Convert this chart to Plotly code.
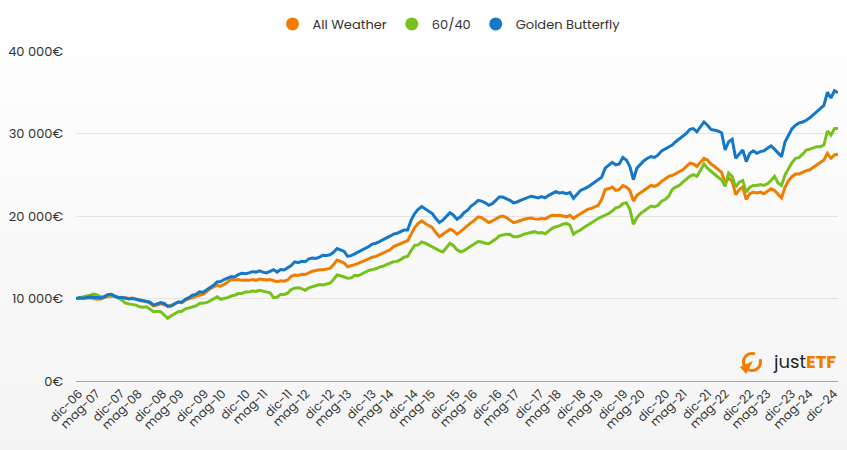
import math
import plotly.graph_objects as go

# ---------------- data (monthly, dic-06 .. dic-24) ----------------
all_weather = [10000,
 10020, 9980, 10050, 10100, 10000, 9900, 9950, 10100, 10250, 10300, 10200, 10100,
 10050, 10100, 10000, 10050, 9950, 9750, 9700, 9650, 9400, 9100, 9200, 9350,
 9250, 9100, 9200, 9400, 9550, 9500, 9800, 9950, 10150, 10250, 10400, 10500,
 10800, 11200, 11400, 11600, 11500, 11700, 12000, 12300, 12250, 12300, 12200, 12250,
 12200, 12300, 12200, 12350, 12300, 12250, 12300, 12200, 12050, 12150, 12100, 12250,
 12700, 12850, 12800, 12950, 12900, 13100, 13300, 13400, 13500, 13500, 13550, 13650,
 14100, 14660, 14500, 14300, 13850, 13950, 14100, 14250, 14450, 14600, 14800, 15000,
 15100, 15300, 15500, 15700, 15900, 16300, 16500, 16600, 16900, 17000, 17800, 18600,
 19100, 19400, 19100, 18800, 18600, 18000, 17500, 17800, 18100, 18400, 18200, 17800,
 18100, 18500, 18800, 19200, 19500, 19900, 19800, 19500, 19200, 19400, 19700, 19900,
 20000, 19800, 19500, 19200, 19300, 19500, 19600, 19700, 19750, 19650, 19600, 19700,
 19650, 19900, 20100, 20050, 20100, 20000, 19900, 20100, 19700, 20000, 20300, 20500,
 20800, 20900, 21100, 21300, 22000, 23200, 23300, 23500, 23100, 23200, 23700, 23500,
 23100, 21800, 22500, 22800, 23100, 23500, 23700, 23600, 23800, 24200, 24500, 24800,
 24900, 25100, 25300, 25600, 26000, 26400, 26300, 26000, 26500, 27000, 26800, 26300,
 26000, 25600, 25300, 24000, 24600, 24200, 22600, 23200, 23500, 22000, 22700, 22900,
 22800, 22900, 22700, 23000, 23300, 23100, 22600, 22200, 23500, 24300, 24800, 25100,
 25100, 25300, 25500, 25600, 25900, 26200, 26500, 26800, 27600, 27000, 27400, 27500]

sixty_forty = [10000,
 10100, 10150, 10250, 10400, 10550, 10450, 10200, 10250, 10400, 10500, 10250, 10100,
 9800, 9450, 9350, 9300, 9200, 9000, 8950, 9000, 8700, 8400, 8450, 8400,
 8000, 7600, 7900, 8200, 8400, 8450, 8750, 8850, 9000, 9100, 9400, 9450,
 9500, 9700, 9900, 10200, 9900, 10000, 10100, 10300, 10400, 10600, 10600, 10800,
 10800, 10900, 10850, 11000, 10900, 10800, 10700, 10100, 10150, 10500, 10500, 10650,
 11100, 11250, 11300, 11200, 11000, 11300, 11450, 11550, 11700, 11650, 11750, 11850,
 12300, 12850, 12750, 12600, 12450, 12500, 12800, 12750, 13000, 13200, 13400, 13500,
 13600, 13800, 13900, 14100, 14300, 14450, 14500, 14700, 15000, 15100, 15800, 16450,
 16500, 16850, 16700, 16450, 16300, 16000, 15800, 15650, 16200, 16700, 16400, 15900,
 15650, 15800, 16100, 16400, 16600, 16900, 16850, 16700, 16650, 16900, 17200, 17600,
 17700, 17800, 17750, 17500, 17500, 17600, 17800, 17900, 18000, 18100, 17950, 18000,
 17850, 18200, 18500, 18700, 18800, 19000, 19100, 18900, 17800, 18100, 18300, 18600,
 18900, 19200, 19500, 19700, 19900, 20100, 20300, 20600, 21000, 21100, 21500, 21600,
 20800, 19000, 19800, 20300, 20600, 20900, 21200, 21100, 21300, 21800, 22000, 22400,
 23200, 23500, 23700, 24100, 24500, 24800, 25000, 24800, 25500, 26300, 25800, 25400,
 25000, 24700, 24400, 23600, 25200, 24800, 23500, 24100, 24300, 22900, 23500, 23700,
 23700, 23800, 23700, 23900, 24300, 24800, 24000, 23700, 25000, 25800, 26500, 27000,
 27100, 27500, 28000, 28100, 28300, 28400, 28400, 28600, 30300, 29800, 30600, 30600]

golden_butterfly = [10000,
 10080, 10020, 10100, 10180, 10150, 10100, 10080, 10200, 10450, 10500, 10250, 10100,
 10150, 10050, 9950, 10000, 9900, 9800, 9750, 9600, 9550, 9200, 9350, 9500,
 9400, 9050, 9100, 9350, 9600, 9550, 9900, 10100, 10400, 10500, 10800, 10750,
 11000, 11300, 11600, 12000, 12050, 12300, 12450, 12650, 12600, 12900, 13050, 13000,
 13100, 13250, 13200, 13350, 13200, 13100, 13300, 13500, 13200, 13500, 13450, 13700,
 14000, 14450, 14350, 14500, 14450, 14800, 14900, 14850, 15000, 15250, 15200, 15300,
 15600, 16050, 15900, 15700, 15100, 15200, 15400, 15600, 15850, 16000, 16300, 16600,
 16700, 16900, 17100, 17350, 17550, 17800, 17900, 18100, 18300, 18300, 19500, 20300,
 20800, 21150, 20900, 20600, 20300, 19700, 19200, 19500, 20000, 20400, 20100, 19600,
 19900, 20400, 20700, 21200, 21500, 21900, 21800, 21600, 21300, 21500, 21900, 22300,
 22300, 22100, 21900, 21600, 21700, 21900, 22100, 22300, 22400, 22300, 22200, 22350,
 22200, 22500, 22700, 22950, 22800, 22850, 22700, 22850, 22150, 22600, 23100, 23300,
 23500, 23800, 24100, 24300, 24700, 25800, 26100, 26500, 26200, 26300, 27100, 26800,
 26000, 24400, 25800, 26300, 26700, 27000, 27200, 27100, 27400, 27900, 28100, 28400,
 28600, 29000, 29300, 29600, 30000, 30500, 30600, 30200, 30800, 31400, 31000, 30500,
 30400, 30300, 30100, 28000, 29000, 29300, 27000, 27500, 28000, 26600, 27600, 27900,
 27600, 27800, 27900, 28200, 28500, 28100, 27600, 27200, 29000, 29900, 30600, 31000,
 31300, 31400, 31600, 31900, 32300, 32700, 33100, 33400, 35000, 34300, 35200, 34950]

series_names = ["All Weather", "60/40", "Golden Butterfly"]
series_values = [all_weather, sixty_forty, golden_butterfly]
series_colors = ["#F07D00", "#76C11B", "#1478C8"]

tick_labels = ["dic-06", "mag-07", "dic-07", "mag-08", "dic-08", "mag-09", "dic-09",
               "mag-10", "dic-10", "mag-11", "dic-11", "mag-12", "dic-12", "mag-13",
               "dic-13", "mag-14", "dic-14", "mag-15", "dic-15", "mag-16", "dic-16",
               "mag-17", "dic-17", "mag-18", "dic-18", "mag-19", "dic-19", "mag-20",
               "dic-20", "mag-21", "dic-21", "mag-22", "dic-22", "mag-23", "dic-23",
               "mag-24", "dic-24"]
y_ticks = [0, 10000, 20000, 30000, 40000]
y_tick_labels = ["0€", "10 000€", "20 000€", "30 000€", "40 000€"]

# ---------------- geometry ----------------
FONT = "Poppins, Open Sans, sans-serif"
W, H = 847, 450
ML, MR, MT, MB = 76, 9, 51, 69
PW, PH = W - ML - MR, H - MT - MB


def to_paper(px, py):
    return (px - ML) / PW, (H - MB - py) / PH


# x = months elapsed since dic-06 (one point per month)
n = len(all_weather)
x_months = list(range(n))
month_num = {"dic": 12, "mag": 5}
tick_months = [(2000 + int(t[-2:]) - 2006) * 12 + month_num[t[:3]] - 12 for t in tick_labels]
# the reference axis ticks sit slightly inside the data span
tick_pos = [0.85 + m * (n - 1 - 2.05) / (n - 1) for m in tick_months]

fig = go.Figure()
for name, vals, col in zip(series_names, series_values, series_colors):
    fig.add_trace(go.Scatter(x=x_months, y=vals, mode="lines", name=name,
                             line=dict(color=col, width=3), showlegend=False))
for name, col in zip(series_names, series_colors):
    fig.add_trace(go.Scatter(x=[None], y=[None], mode="markers", name=name,
                             marker=dict(color=col, size=13, symbol="circle")))

shapes = []
nb = 30
for k in range(nb):
    y0 = H * k / nb
    y1 = H * (k + 1) / nb + 1
    c = 255 - round(11 * (k + 0.5) / nb)
    xa, ya = to_paper(0, y1)
    xb, yb = to_paper(W, y0)
    shapes.append(dict(type="rect", xref="paper", yref="paper", x0=xa, x1=xb,
                       y0=ya, y1=yb, fillcolor=f"rgb({c},{c},{c})",
                       line=dict(width=0), layer="below"))

# justETF logo icon (ring + pointer)
cx, cy, r = 752, 362, 8.5
pts = []
for a in range(20, -291, -10):
    rad = math.radians(a)
    pts.append(to_paper(cx + r * math.cos(rad), cy - r * math.sin(rad)))
path = "M " + " L ".join(f"{x:.5f},{y:.5f}" for x, y in pts)
shapes.append(dict(type="path", xref="paper", yref="paper", path=path,
                   line=dict(color="#F07D00", width=3)))
tri = [to_paper(753, 361), to_paper(740, 367), to_paper(746, 374)]
shapes.append(dict(type="path", xref="paper", yref="paper",
                   path="M " + " L ".join(f"{x:.5f},{y:.5f}" for x, y in tri) + " Z",
                   fillcolor="#F07D00", line=dict(width=0)))

lx, ly = to_paper(838, 361)
fig.add_annotation(xref="paper", yref="paper", x=lx, y=ly, xanchor="right", yanchor="middle",
                   showarrow=False,
                   text="<span style='color:#1e1e1e'>just</span><b><span style='color:#F07D00'>ETF</span></b>",
                   font=dict(family=FONT, size=18))

legx, legy = to_paper(449, 24)
fig.update_layout(
    width=W, height=H,
    margin=dict(l=ML, r=MR, t=MT, b=MB, autoexpand=False),
    paper_bgcolor="#ffffff",
    plot_bgcolor="rgba(0,0,0,0)",
    font=dict(family=FONT, size=13, color="#333333"),
    shapes=shapes,
    showlegend=True,
    legend=dict(orientation="h", x=legx, xanchor="center", y=legy, yanchor="middle",
                font=dict(size=13, color="#333333"), bgcolor="rgba(0,0,0,0)"),
    xaxis=dict(range=[0, n - 1], tickmode="array", tickvals=tick_pos, ticktext=tick_labels,
               tickangle=-45, showgrid=False, showline=True, linecolor="#a6a6a6",
               linewidth=1, ticks="", tickfont=dict(size=12, color="#333333"),
               zeroline=False, automargin=False),
    yaxis=dict(range=[0, 40000], tickmode="array", tickvals=y_ticks, ticktext=y_tick_labels,
               showgrid=True, gridcolor="#e3e3e3", gridwidth=1, zeroline=False,
               ticks="", ticklabelstandoff=12, automargin=False,
               tickfont=dict(size=13, color="#333333")),
)

# place the chart at the page's top-left corner (no default body margin)
fig.write_html("out.html", config={"displayModeBar": False},
               post_script="document.body.style.margin='0px';document.body.style.overflow='hidden';")
